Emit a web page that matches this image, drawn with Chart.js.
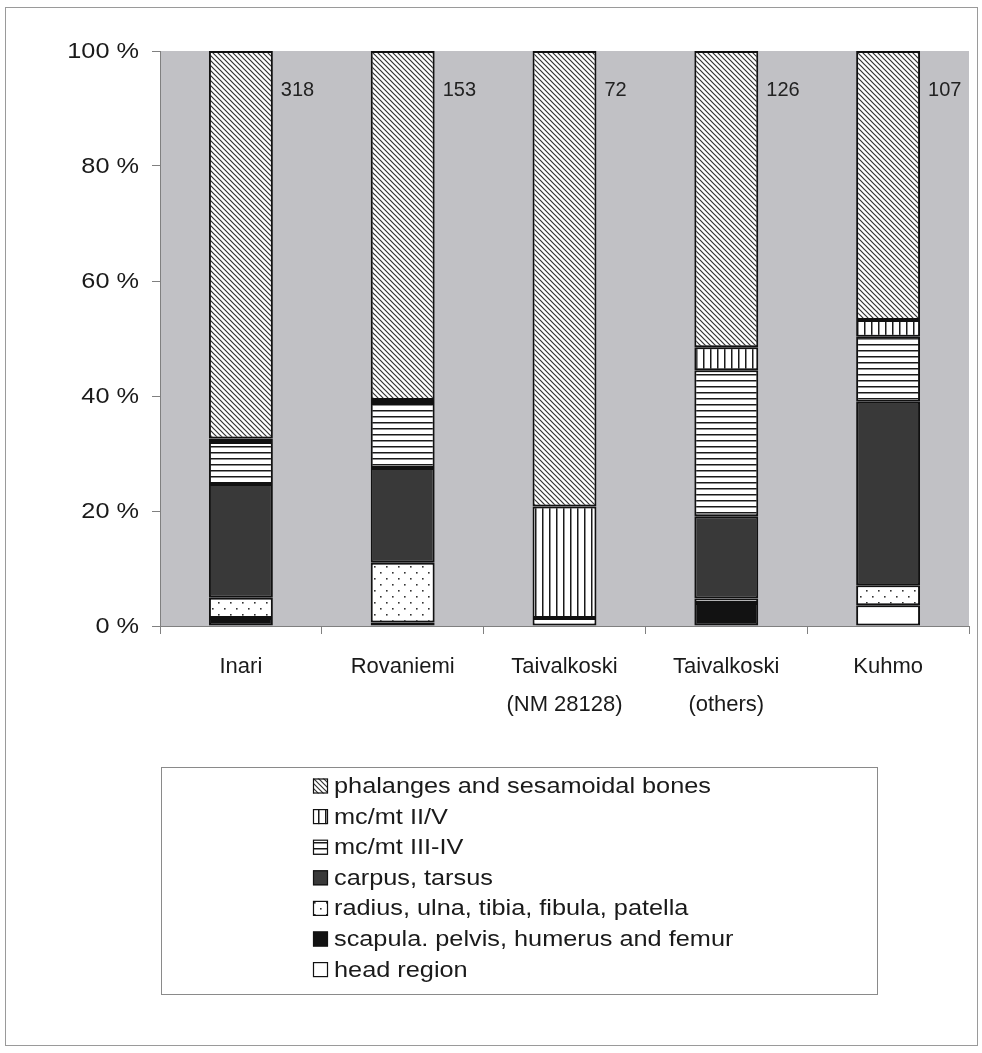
<!DOCTYPE html>
<html>
<head>
<meta charset="utf-8">
<script src="https://cdn.jsdelivr.net/npm/chart.js@4/dist/chart.umd.min.js"></script>
<style>
  html, body { margin: 0; padding: 0; background: #ffffff; }
  #wrap { width: 982px; height: 1053px; position: relative; }
</style>
</head>
<body>
<div id="wrap"><canvas id="chart" width="982" height="1053"></canvas></div>
<script>
// Sites (x-axis categories); multi-line names are arrays
const sites = ['Inari', 'Rovaniemi', ['Taivalkoski', '(NM 28128)'], ['Taivalkoski', '(others)'], 'Kuhmo'];
// Number of identified bones per site
const sampleSizes = [318, 153, 72, 126, 107];

// Share of each skeletal element group per site, in percent (bottom to top of the stack)
const headRegion    = [0,    0,    1.4,  0,    3.6];
const scapulaPelvis = [1.4,  0.6,  0,    4.0,  0];
const radiusUlna    = [3.5,  10.4, 0,    0.8,  3.5];
const carpusTarsus  = [19.8, 16.5, 0,    14.3, 31.9];
const mcmtIIIIV     = [7.3,  11.3, 0,    25.4, 11.3];
const mcmtIIV       = [0.6,  0.5,  19.4, 4.0,  2.9];
const phalanges     = [67.4, 60.7, 79.2, 51.5, 46.8];

const yTickValues = [0, 20, 40, 60, 80, 100];

const FONT = '"Liberation Sans", Arial, sans-serif';
const TEXT_STRETCH = 1.15; // wide-set lettering for the axis values and legend

// ---- fill patterns ----
function makeTile(w, h, bg, draw) {
  const c = document.createElement('canvas');
  c.width = w; c.height = h;
  const g = c.getContext('2d');
  g.fillStyle = bg; g.fillRect(0, 0, w, h);
  draw(g, w, h);
  return c;
}
const ctxMain = document.getElementById('chart').getContext('2d');

const diagTile = makeTile(5, 5, '#ffffff', (g, w, h) => {
  g.strokeStyle = '#333333'; g.lineWidth = 1.2;
  g.beginPath();
  g.moveTo(-1, -1); g.lineTo(w + 1, h + 1);
  g.moveTo(-1, h - 1); g.lineTo(1, h + 1);
  g.moveTo(w - 1, -1); g.lineTo(w + 1, 1);
  g.stroke();
});
const vertTile = makeTile(7, 7, '#ffffff', (g) => {
  g.fillStyle = '#1a1a1a'; g.fillRect(3, 0, 1.5, 7);
});
const horizTile = makeTile(7, 6, '#ffffff', (g) => {
  g.fillStyle = '#1a1a1a'; g.fillRect(0, 2, 7, 1.5);
});
const dotTile = makeTile(12, 12, '#ffffff', (g) => {
  g.fillStyle = '#333333';
  g.fillRect(2, 2, 1.6, 1.6);
  g.fillRect(8, 8, 1.6, 1.6);
});

const fills = {
  phalanges: ctxMain.createPattern(diagTile, 'repeat'),
  mcII: ctxMain.createPattern(vertTile, 'repeat'),
  mcIII: ctxMain.createPattern(horizTile, 'repeat'),
  carpus: '#393939',
  radius: ctxMain.createPattern(dotTile, 'repeat'),
  scapula: '#121212',
  head: '#ffffff'
};

function ds(label, data, fill) {
  return {
    label, data,
    backgroundColor: fill,
    borderColor: '#111111',
    borderWidth: 2,
    borderSkipped: false,
    categoryPercentage: 1,
    barPercentage: 0.395
  };
}

const datasets = [
  ds('head region', headRegion, fills.head),
  ds('scapula. pelvis, humerus and femur', scapulaPelvis, fills.scapula),
  ds('radius, ulna, tibia, fibula, patella', radiusUlna, fills.radius),
  ds('carpus, tarsus', carpusTarsus, fills.carpus),
  ds('mc/mt III-IV', mcmtIIIIV, fills.mcIII),
  ds('mc/mt II/V', mcmtIIV, fills.mcII),
  ds('phalanges and sesamoidal bones', phalanges, fills.phalanges)
];

function stretchedText(ctx, text, x, y, align) {
  ctx.save();
  ctx.translate(x, y);
  ctx.scale(TEXT_STRETCH, 1);
  ctx.textAlign = align;
  ctx.fillText(text, 0, 0);
  ctx.restore();
}

// grey plot background and the outer frame
const backdrop = {
  id: 'backdrop',
  beforeDraw(chart) {
    const { ctx, chartArea: a } = chart;
    ctx.save();
    ctx.fillStyle = '#ffffff';
    ctx.fillRect(0, 0, chart.width, chart.height);
    ctx.strokeStyle = '#9a9a9a'; ctx.lineWidth = 1;
    ctx.strokeRect(5.5, 7.5, chart.width - 10, chart.height - 15);
    ctx.fillStyle = '#c1c1c5';
    ctx.fillRect(a.left, a.top, a.right - a.left, a.bottom - a.top);
    ctx.restore();
  }
};

// percent labels on the value axis
const yLabels = {
  id: 'yLabels',
  afterDraw(chart) {
    const { ctx } = chart;
    const y = chart.scales.y;
    ctx.save();
    ctx.font = '22px ' + FONT;
    ctx.fillStyle = '#1a1a1a';
    ctx.textBaseline = 'middle';
    y.ticks.forEach(t => {
      stretchedText(ctx, t.value + ' %', 139, y.getPixelForValue(t.value) + 1, 'right');
    });
    ctx.restore();
  }
};

// sample size written beside the top of each column
const sizeLabels = {
  id: 'sizeLabels',
  afterDatasetsDraw(chart) {
    const { ctx } = chart;
    const meta = chart.getDatasetMeta(chart.data.datasets.length - 1);
    const y = chart.scales.y.getPixelForValue(93.2);
    ctx.save();
    ctx.font = '20px ' + FONT;
    ctx.fillStyle = '#222222';
    ctx.textBaseline = 'middle';
    ctx.textAlign = 'left';
    meta.data.forEach((bar, i) => {
      ctx.fillText(String(sampleSizes[i]), bar.x + bar.width / 2 + 8, y);
    });
    ctx.restore();
  }
};

// boxed legend, one entry per line, top of stack first
const boxLegend = {
  id: 'boxLegend',
  afterDraw(chart) {
    const { ctx } = chart;
    const box = { x: 161.5, y: 767.5, w: 716, h: 227 };
    ctx.save();
    ctx.strokeStyle = '#8a8a8a'; ctx.lineWidth = 1;
    ctx.strokeRect(box.x, box.y, box.w, box.h);
    ctx.font = '22px ' + FONT;
    ctx.textBaseline = 'middle';
    const items = chart.data.datasets.slice().reverse();
    items.forEach((d, i) => {
      const cy = 786 + i * 30.6;
      const sx = 313, sw = 15;
      ctx.fillStyle = d.backgroundColor;
      ctx.fillRect(sx, cy - sw / 2, sw, sw);
      ctx.strokeStyle = '#111111'; ctx.lineWidth = 1.2;
      ctx.strokeRect(sx + 0.5, cy - sw / 2 + 0.5, sw - 1, sw - 1);
      ctx.fillStyle = '#1a1a1a';
      stretchedText(ctx, d.label, 334, cy + 1, 'left');
    });
    ctx.restore();
  }
};

new Chart(ctxMain, {
  type: 'bar',
  data: { labels: sites, datasets },
  options: {
    responsive: false,
    animation: false,
    layout: { padding: { top: 51, right: 13, left: 0, bottom: 0 } },
    plugins: {
      legend: { display: false },
      tooltip: { enabled: false },
      title: { display: false }
    },
    scales: {
      x: {
        stacked: true,
        offset: true,
        grid: {
          display: true, drawOnChartArea: false, drawTicks: true,
          tickLength: 8, color: '#808080', lineWidth: 1, offset: true
        },
        border: { display: true, color: '#808080', width: 1 },
        ticks: {
          color: '#1a1a1a',
          font: { family: FONT, size: 22, lineHeight: 1.72 },
          padding: 14,
          maxRotation: 0, minRotation: 0, autoSkip: false
        },
        afterFit(scale) { scale.height = 1053 - 626; }
      },
      y: {
        stacked: true,
        min: 0, max: 100,
        afterBuildTicks(scale) { scale.ticks = yTickValues.map(v => ({ value: v })); },
        grid: {
          display: true, drawOnChartArea: false, drawTicks: true,
          tickLength: 8, color: '#808080', lineWidth: 1
        },
        border: { display: true, color: '#808080', width: 1 },
        ticks: { display: false },
        afterFit(scale) { scale.width = 160; }
      }
    }
  },
  plugins: [backdrop, sizeLabels, yLabels, boxLegend]
});
</script>
</body>
</html>
